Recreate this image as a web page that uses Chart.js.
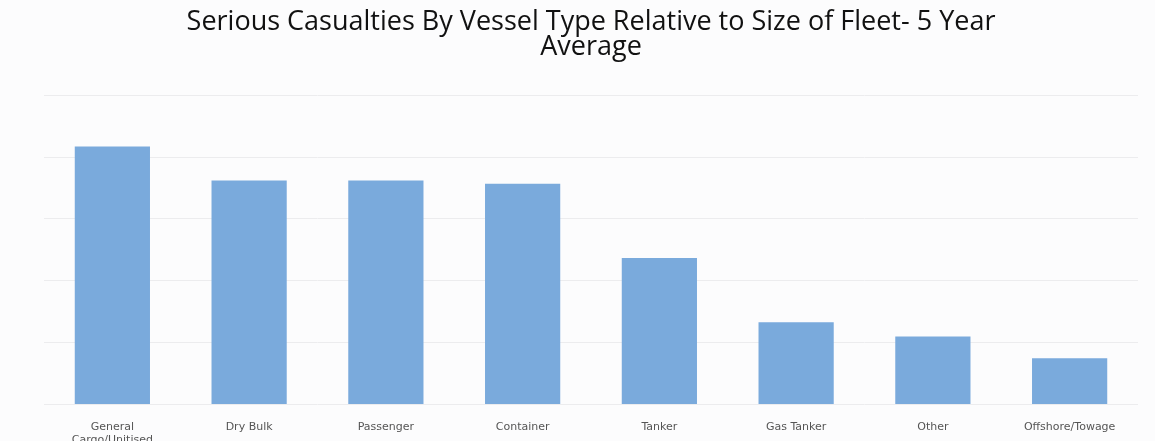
<!DOCTYPE html>
<html>
<head>
<meta charset="utf-8">
<script src="https://cdn.jsdelivr.net/npm/chart.js@4/dist/chart.umd.min.js"></script>
<style>
  html, body { margin: 0; padding: 0; background: #fcfcfd; }
  #wrap { width: 1155px; height: 441px; position: relative; }
</style>
</head>
<body>
<div id="wrap"><canvas id="casualtyChart"></canvas></div>
<script>
// vessel categories and relative casualty rate (5 year average)
const vesselTypes = [
  ["General", "Cargo/Unitised"],
  "Dry Bulk",
  "Passenger",
  "Container",
  "Tanker",
  "Gas Tanker",
  "Other",
  "Offshore/Towage",
];
const casualtyRates = [4.17, 3.62, 3.62, 3.57, 2.37, 1.33, 1.1, 0.75];
const titleLines = [
  "Serious Casualties By Vessel Type Relative to Size of Fleet- 5 Year",
  "Average",
];

document.addEventListener("DOMContentLoaded", function () {
  const ctx = document.getElementById("casualtyChart").getContext("2d");
  const casualtyChart = new Chart(ctx, {
    type: "bar",
    data: {
      labels: vesselTypes,
      datasets: [
        {
          label: "Serious casualties",
          data: casualtyRates,
          backgroundColor: "#7aaadc",
          borderWidth: 0,
          categoryPercentage: 1,
          barPercentage: 0.55,
        },
      ],
    },
    options: {
      responsive: true,
      maintainAspectRatio: false,
      animation: false,
      layout: {
        padding: { left: 44, right: 17, top: 0, bottom: -14 },
      },
      plugins: {
        legend: { display: false },
        tooltip: { enabled: false },
        title: {
          display: true,
          text: titleLines,
          color: "#111",
          font: { family: "'Open Sans', sans-serif", size: 27, weight: "normal", lineHeight: 0.93 },
          padding: { top: 10, bottom: 35 },
        },
      },
      scales: {
        y: {
          min: 0,
          max: 5,
          ticks: { display: false, stepSize: 1 },
          border: { display: false },
          grid: { color: "#ececee", lineWidth: 1, drawTicks: false },
        },
        x: {
          border: { display: false },
          grid: { display: false },
          ticks: {
            color: "#555",
            padding: 8,
            maxRotation: 0,
            autoSkip: false,
            font: { family: "'DejaVu Sans', sans-serif", size: 11 },
          },
        },
      },
    },
  });
});
</script>
</body>
</html>
